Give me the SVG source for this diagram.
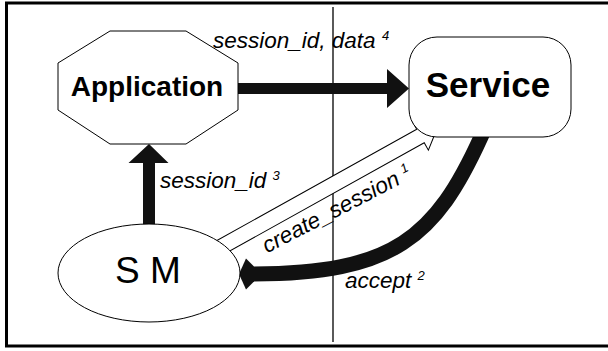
<svg xmlns="http://www.w3.org/2000/svg" width="608" height="351" viewBox="0 0 608 351">
<style>
.node{fill:#fff;stroke:#000;stroke-width:1}
.bold{font-family:"Liberation Sans",Arial,sans-serif;font-weight:bold;fill:#000}
.lbl{font-family:"Liberation Sans",Arial,sans-serif;font-style:italic;font-size:22.5px;fill:#000}
.sup{font-size:13px}
.thick{fill:#111}
</style>
<rect width="608" height="351" fill="#fff"/>
<path d="M608 3 H6.5 V346 H608" fill="none" stroke="#000" stroke-width="3"/>
<line x1="333" y1="7" x2="333" y2="342" stroke="#000" stroke-width="1.3"/>
<g id="connectors">
  <polygon class="thick" points="238,83 387,83 387,69 409,88.5 387,108 387,94 238,94"/>
  <polygon class="thick" points="143,226 143,163 128.5,163 149,144 168.5,163 155,163 155,226"/>
  <path d="M485 128 L481 137 C435.5 237 394 274 252 274" fill="none" stroke="#111" stroke-width="15" stroke-linejoin="round"/>
  <polygon class="thick" points="239,274 246,258.5 254,266.5 254,281.5 246,289.5"/>
  <polygon points="-240,-7.7 0,-7.7 0,-16.2 20,0 0,16.2 0,7.7 -240,7.7" fill="#fff" stroke="#000" stroke-width="1" transform="translate(420.5,136) rotate(-29.1)"/>
  <text class="lbl" x="213" y="47.5">session_id, data <tspan class="sup" dy="-8">4</tspan></text>
  <text class="lbl" x="160" y="188">session_id <tspan class="sup" dy="-8">3</tspan></text>
  <text class="lbl" x="345" y="288">accept <tspan class="sup" dy="-8">2</tspan></text>
  <text class="lbl" transform="translate(267,253.5) rotate(-27.5)">create_session <tspan class="sup" dy="-8">1</tspan></text>
</g>
<g id="application">
  <polygon class="node" points="110,31 186,31 238,63 238,110 186,144 110,144 58,110 58,63"/>
  <text class="bold" x="147" y="96" font-size="28" text-anchor="middle">Application</text>
</g>
<g id="service">
  <rect class="node" x="409" y="37" width="162" height="100" rx="28" ry="28"/>
  <text class="bold" x="488" y="97" font-size="35" text-anchor="middle">Service</text>
</g>
<g id="sm">
  <ellipse class="node" cx="149" cy="273" rx="91" ry="49"/>
  <text x="148" y="283" font-family="'Liberation Sans',Arial,sans-serif" font-size="37" text-anchor="middle" fill="#000">S M</text>
</g>
</svg>
